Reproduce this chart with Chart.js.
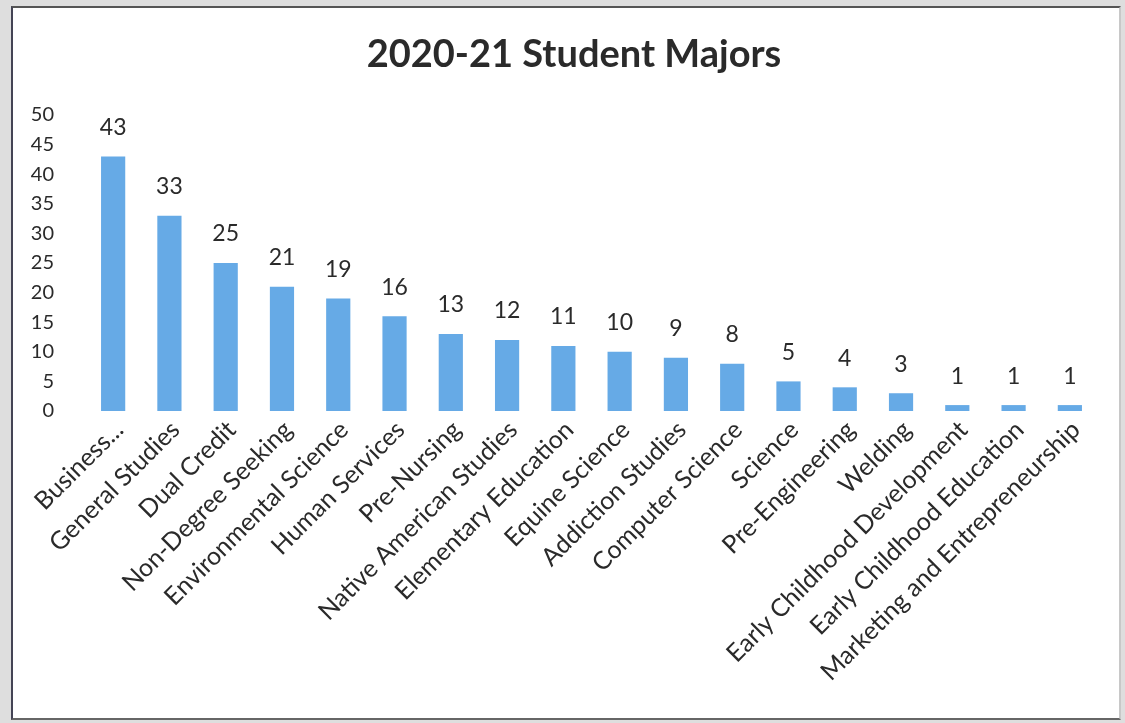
<!DOCTYPE html>
<html>
<head>
<meta charset="utf-8">
<script src="https://cdn.jsdelivr.net/npm/chart.js@4.4.1/dist/chart.umd.min.js"></script>
<style>
  html, body { margin: 0; padding: 0; background: #dedede; width: 1125px; height: 723px; overflow: hidden; }
  #wrap { position: absolute; left: 11px; top: 6px; width: 1106px; height: 710px;
          border-left: 2px solid #445; border-top: 2px solid #555; border-bottom: 2px solid #666; border-right: 2px solid #c8c8c8;
          background: #ffffff; }
  canvas { display: block; }
</style>
</head>
<body>
<div id="wrap"><canvas id="c"></canvas></div>
<script>
const titleText = "2020-21 Student Majors";
const categories = [
  "Business...", "General Studies", "Dual Credit", "Non-Degree Seeking",
  "Environmental Science", "Human Services", "Pre-Nursing", "Native American Studies",
  "Elementary Education", "Equine Science", "Addiction Studies", "Computer Science",
  "Science", "Pre-Engineering", "Welding", "Early Childhood Development",
  "Early Childhood Education", "Marketing and Entrepreneurship"
];
const students = [43, 33, 25, 21, 19, 16, 13, 12, 11, 10, 9, 8, 5, 4, 3, 1, 1, 1];
const yTicks = [0, 5, 10, 15, 20, 25, 30, 35, 40, 45, 50];

const textColor = "#2a2a2a";

const titleAndLabels = {
  id: "titleAndLabels",
  afterDraw(chart) {
    const ctx = chart.ctx;
    ctx.save();
    ctx.fillStyle = textColor;
    ctx.textAlign = "center";
    ctx.textBaseline = "middle";
    ctx.font = "bold 38px Lato";
    ctx.fillText(titleText, chart.width / 2 + 8, 47);
    ctx.font = "23px Lato";
    const meta = chart.getDatasetMeta(0);
    meta.data.forEach((bar, i) => {
      ctx.fillText(String(students[i]), bar.x, bar.y - 29);
    });
    ctx.restore();
  }
};

new Chart(document.getElementById("c"), {
  type: "bar",
  data: {
    labels: categories,
    datasets: [{
      data: students,
      backgroundColor: "#66aae6",
      borderWidth: 0,
      barPercentage: 0.43,
      categoryPercentage: 1.0
    }]
  },
  options: {
    responsive: true,
    maintainAspectRatio: false,
    animation: false,
    layout: { autoPadding: false, padding: { left: 18, right: 21, top: 107, bottom: 0 } },
    plugins: {
      legend: { display: false },
      tooltip: { enabled: false },
      title: { display: false }
    },
    scales: {
      x: {
        grid: { display: false, drawTicks: false },
        border: { display: false },
        ticks: {
          color: textColor,
          font: { family: "Lato", size: 25 },
          minRotation: 45,
          maxRotation: 45,
          autoSkip: false,
          padding: 4,
          labelOffset: 6
        },
        afterFit(s) { s.height = 307; s.paddingLeft = 0; s.paddingRight = 0; }
      },
      y: {
        min: 0,
        max: 50,
        grid: { display: false, drawTicks: false },
        border: { display: false },
        afterBuildTicks(s) { s.ticks = yTicks.map(v => ({ value: v })); },
        ticks: {
          color: textColor,
          font: { family: "Lato", size: 20 },
          padding: 31
        },
        afterFit(s) { s.width = 54; }
      }
    }
  },
  plugins: [titleAndLabels]
});
</script>
</body>
</html>
